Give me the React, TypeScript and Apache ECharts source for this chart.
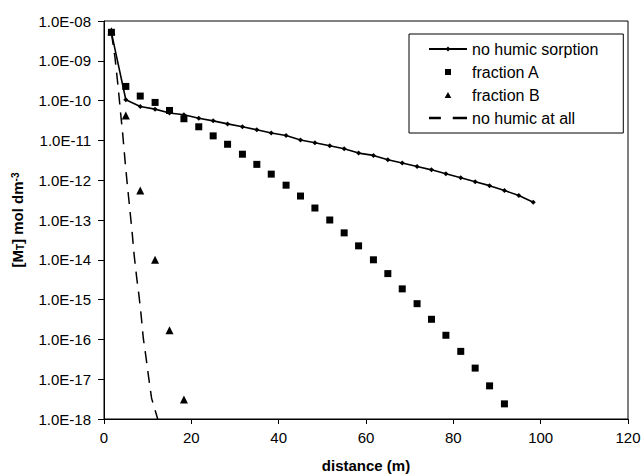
import React, { useEffect, useRef } from "react";
import * as echarts from "echarts";

// distance (m) for the "no humic sorption" curve
const distance = [
  1.7, 5, 8.3, 11.7, 15, 18.3, 21.7, 25, 28.3, 31.7, 35, 38.3, 41.7, 45, 48.3,
  51.7, 55, 58.3, 61.7, 65, 68.3, 71.7, 75, 78.3, 81.7, 85, 88.3, 91.7, 95, 98.3,
];
const noHumicSorption = [
  5.1e-9, 1.05e-10, 7.1e-11, 6.1e-11, 4.9e-11, 4.4e-11, 3.6e-11, 3.1e-11, 2.6e-11,
  2.2e-11, 1.85e-11, 1.53e-11, 1.33e-11, 1.02e-11, 8.7e-12, 7.3e-12, 6.15e-12,
  4.8e-12, 4.2e-12, 3.25e-12, 2.7e-12, 2.2e-12, 1.82e-12, 1.45e-12, 1.15e-12,
  9.1e-13, 7.3e-13, 5.5e-13, 4.15e-13, 2.8e-13,
];

const fractionADistance = [
  1.7, 5, 8.3, 11.7, 15, 18.3, 21.7, 25, 28.3, 31.7, 35, 38.3, 41.7, 45, 48.3,
  51.7, 55, 58.3, 61.7, 65, 68.3, 71.7, 75, 78.3, 81.7, 85, 88.3, 91.7,
];
const fractionA = [
  5.2e-9, 2.27e-10, 1.3e-10, 9.0e-11, 5.65e-11, 3.5e-11, 2.2e-11, 1.3e-11, 8.0e-12,
  4.5e-12, 2.5e-12, 1.42e-12, 7.5e-13, 4.0e-13, 2.0e-13, 1.0e-13, 4.75e-14,
  2.24e-14, 1.0e-14, 4.5e-15, 1.86e-15, 7.9e-16, 3.2e-16, 1.27e-16, 5.0e-17,
  1.9e-17, 6.8e-18, 2.4e-18,
];

const fractionBDistance = [1.7, 5, 8.3, 11.7, 15, 18.3];
const fractionB = [5.5e-9, 4.2e-11, 5.5e-13, 1.0e-14, 1.7e-16, 3.1e-18];

const noHumicAtAllDistance = [
  1.7, 2.5, 3.3, 3.8, 4.3, 4.8, 5.3, 6.0, 6.5, 6.9, 7.5, 8.0, 8.5, 9.0, 9.6, 10.2,
  10.9, 12.3,
];
const noHumicAtAll = [
  5.0e-9, 1.26e-9, 1.88e-10, 4.9e-11, 1.4e-11, 3.25e-12, 8.5e-13, 1.5e-13, 4.2e-14,
  1.33e-14, 3.45e-15, 1.3e-15, 4.1e-16, 1.07e-16, 3.7e-17, 1.16e-17, 3.3e-18, 1.0e-18,
];

const yTickLabels = [
  "1.0E-18", "1.0E-17", "1.0E-16", "1.0E-15", "1.0E-14", "1.0E-13",
  "1.0E-12", "1.0E-11", "1.0E-10", "1.0E-09", "1.0E-08",
];

const seriesNames = ["no humic sorption", "fraction A", "fraction B", "no humic at all"];

const FONT = "'Liberation Sans', Arial, Helvetica, sans-serif";

function pairs(xs: number[], ys: number[]) {
  return xs.map((x, i) => [x, ys[i]]);
}

export default function App() {
  const ref = useRef<HTMLDivElement>(null);

  useEffect(() => {
    document.body.style.margin = "0";
    if (!ref.current) return;
    const chart = echarts.init(ref.current, undefined, { renderer: "svg" });
    const option: any = {
      animation: false,
      backgroundColor: "#fff",
      grid: {
        left: 104,
        right: 13,
        top: 21,
        bottom: 57,
        show: true,
        borderColor: "#000",
        borderWidth: 1,
        backgroundColor: "transparent",
        outerBoundsMode: "none",
      },
      legend: {
        left: 409,
        top: 34,
        orient: "vertical",
        itemWidth: 38,
        itemHeight: 6,
        itemGap: 7,
        padding: [7, 25, 7, 19],
        borderColor: "#000",
        borderWidth: 1,
        backgroundColor: "#fff",
        selectedMode: false,
        symbolKeepAspect: true,
        textStyle: { color: "#000", fontSize: 16, fontFamily: FONT },
        data: [
          { name: seriesNames[0] },
          { name: seriesNames[1], icon: "path://M0,0H1V1H0Z" },
          { name: seriesNames[2], icon: "path://M5,0L10,9L0,9Z" },
          { name: seriesNames[3], icon: "path://M0,0H10V2H0Z M20,0H32V2H20Z" },
        ],
      },
      xAxis: {
        type: "value",
        min: 0,
        max: 120,
        interval: 20,
        name: "distance (m)",
        nameLocation: "middle",
        nameGap: 39,
        nameMoveOverlap: false,
        nameTextStyle: { color: "#000", fontSize: 15, fontWeight: "bold", fontFamily: FONT },
        axisLine: { show: true, onZero: false, lineStyle: { color: "#000", width: 1 } },
        axisTick: { show: true, inside: false, length: 5, lineStyle: { color: "#000" } },
        axisLabel: { color: "#000", fontSize: 15, fontFamily: FONT, margin: 11 },
        splitLine: { show: false },
      },
      yAxis: {
        type: "log",
        logBase: 10,
        min: 1e-18,
        max: 1e-8,
        splitNumber: 10,
        name: "[M{sub|T}] mol dm{sup|-3}",
        nameLocation: "middle",
        nameGap: 79,
        nameMoveOverlap: false,
        nameTextStyle: {
          color: "#000",
          fontSize: 15,
          fontWeight: "bold",
          fontFamily: FONT,
          rich: {
            sub: { fontSize: 10, fontWeight: "bold", fontFamily: FONT, color: "#000", verticalAlign: "bottom" },
            sup: { fontSize: 10, fontWeight: "bold", fontFamily: FONT, color: "#000", verticalAlign: "top" },
          },
        },
        axisLine: { show: true, lineStyle: { color: "#000", width: 1 } },
        axisTick: { show: true, inside: false, length: 6, lineStyle: { color: "#000" } },
        axisLabel: {
          color: "#000",
          fontSize: 15,
          fontFamily: FONT,
          margin: 13,
          formatter: (v: number) => {
            const e = Math.round(Math.log10(v));
            return yTickLabels[e + 18] ?? "";
          },
        },
        splitLine: { show: false },
        minorTick: { show: false },
      },
      series: [
        {
          name: seriesNames[0],
          type: "line",
          data: pairs(distance, noHumicSorption),
          symbol: "diamond",
          symbolSize: 5,
          showSymbol: true,
          color: "#000",
          itemStyle: { color: "#000", opacity: 1 },
          lineStyle: { color: "#000", width: 1.6 },
          clip: true,
          z: 3,
        },
        {
          name: seriesNames[1],
          type: "scatter",
          data: pairs(fractionADistance, fractionA),
          symbol: "rect",
          symbolSize: 7,
          color: "#000",
          itemStyle: { color: "#000", opacity: 1 },
          z: 2,
        },
        {
          name: seriesNames[2],
          type: "scatter",
          data: pairs(fractionBDistance, fractionB),
          symbol: "triangle",
          symbolSize: 8,
          color: "#000",
          itemStyle: { color: "#000", opacity: 1 },
          z: 2,
        },
        {
          name: seriesNames[3],
          type: "line",
          data: pairs(noHumicAtAllDistance, noHumicAtAll),
          symbol: "none",
          showSymbol: false,
          color: "#000",
          itemStyle: { color: "#000" },
          lineStyle: { color: "#000", width: 1.5, type: [12, 8] },
          clip: true,
          z: 1,
        },
      ],
    };
    chart.setOption(option);
    return () => chart.dispose();
  }, []);

  return <div ref={ref} style={{ width: 641, height: 476 }} />;
}
